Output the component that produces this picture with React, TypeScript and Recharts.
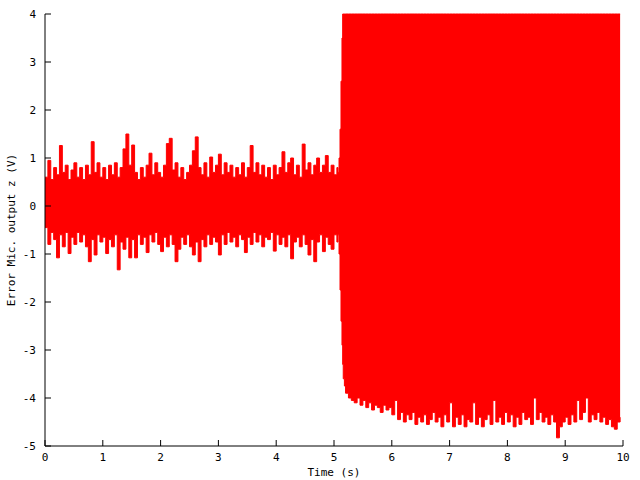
import { ComposedChart, Area, XAxis, YAxis } from 'recharts';

// sampling grid of the noisy record (seconds)
const step = 0.05;

// envelope of the signal before the error grows (t = 0 .. 5.05 s)
const preUpper = [
  0.6, 0.95, 0.55, 0.8, 0.65, 1.26, 0.7, 0.85, 0.55, 0.75,
  0.9, 0.6, 0.8, 0.55, 0.85, 0.65, 1.34, 0.7, 0.9, 0.6,
  0.8, 0.55, 0.85, 0.65, 0.9, 0.6, 0.8, 1.19, 1.5, 0.85,
  1.27, 0.7, 0.55, 0.8, 0.6, 0.85, 1.1, 0.65, 0.9, 0.7,
  0.6, 0.85, 1.3, 1.41, 0.75, 0.9, 0.6, 0.8, 0.55, 0.7,
  0.85, 1.15, 1.44, 0.8, 0.65, 0.9, 0.6, 1.02, 0.7, 0.85,
  1.08, 0.65, 0.9, 0.7, 0.85, 0.6, 0.8, 0.65, 0.9, 0.6,
  0.8, 1.26, 0.7, 0.9, 0.65, 0.85, 0.6, 0.8, 0.55, 0.85,
  0.65, 0.8, 1.13, 0.7, 0.9, 1.0, 0.65, 0.85, 0.6, 1.29,
  0.75, 0.9, 0.65, 0.85, 1.0, 0.7, 0.85, 1.05, 0.7, 0.85,
  0.65, 0.8,
];
const preLower = [
  -0.45, -0.8, -0.55, -0.7, -1.08, -0.6, -0.85, -0.55, -0.99, -0.65,
  -0.8, -0.55, -0.75, -0.6, -0.85, -1.16, -0.7, -1.02, -0.6, -0.75,
  -0.65, -0.99, -0.7, -0.85, -0.6, -1.33, -0.75, -0.9, -0.65, -1.08,
  -0.7, -1.08, -0.6, -0.8, -0.65, -0.97, -0.6, -0.75, -0.55, -0.8,
  -0.95, -0.65, -0.85, -0.6, -0.8, -1.16, -0.9, -0.65, -0.8, -0.6,
  -0.85, -1.02, -0.75, -1.16, -0.7, -0.85, -0.6, -0.8, -0.65, -0.75,
  -1.02, -0.6, -0.8, -0.55, -0.75, -0.65, -0.85, -0.6, -0.7, -0.97,
  -0.65, -0.8, -0.55, -0.75, -0.6, -0.85, -0.65, -0.7, -0.55, -0.94,
  -0.6, -0.8, -0.65, -0.85, -0.6, -1.1, -0.75, -0.65, -0.85, -0.6,
  -0.8, -1.02, -0.7, -1.16, -0.75, -0.6, -0.95, -0.65, -0.8, -0.9,
  -0.6, -0.75,
];

// the fast rise around 5.1 s
const rampTime = [5.07, 5.087, 5.104, 5.121, 5.138, 5.15, 5.16, 5.18];
const rampUpper = [0.7, 1.0, 1.6, 2.6, 3.5, 4, 4, 4];
const rampLower = [-0.6, -1.0, -1.75, -2.4, -2.9, -3.3, -3.6, -3.75];

// after the rise: clipped at the top of the plot, lower envelope (t = 5.20 .. 9.95 s)
const postStart = 5.2;
const postUpper = 4;
const postLower = [
  -3.9, -4.0, -4.05, -4.1, -4.0, -4.15, -4.05, -4.2, -4.1, -4.25,
  -4.15, -4.2, -4.3, -4.15, -4.25, -4.2, -4.35, -4.05, -4.45, -4.3,
  -4.5, -4.35, -4.45, -4.3, -4.55, -4.4, -4.5, -4.35, -4.55, -4.45,
  -4.3, -4.5, -4.4, -4.6, -4.35, -4.5, -4.1, -4.6, -4.4, -4.55,
  -4.35, -4.6, -4.45, -4.5, -4.1, -4.55, -4.4, -4.6, -4.45, -4.35,
  -4.55, -4.05, -4.5, -4.4, -4.55, -4.3, -4.5, -4.35, -4.6, -4.4,
  -4.55, -4.3, -4.45, -4.4, -4.55, -4.0, -4.45, -4.3, -4.5, -4.4,
  -4.55, -4.35, -4.5, -4.83, -4.6, -4.5, -4.4, -4.55, -4.35, -4.5,
  -4.05, -4.45, -4.3, -4.0, -4.5, -4.35, -4.45, -4.3, -4.5, -4.4,
  -4.55, -4.45, -4.6, -4.65, -4.5, -4.4,
];

const xTicks = [0, 1, 2, 3, 4, 5, 6, 7, 8, 9, 10];
const yTicks = [-5, -4, -3, -2, -1, 0, 1, 2, 3, 4];

const data = [
  ...preUpper.map((hi, i) => ({ t: +(i * step).toFixed(3), range: [preLower[i], hi] })),
  ...rampTime.map((t, i) => ({ t, range: [rampLower[i], rampUpper[i]] })),
  ...postLower.map((lo, i) => ({ t: +(postStart + i * step).toFixed(3), range: [lo, postUpper] })),
];

const W = 640;
const H = 480;
const LEFT = 45;
const RIGHT = 623;
const TOP = 14;
const BOTTOM = 446;
const TICK = 6;
const font = { fontFamily: '"DejaVu Sans Mono", monospace', fontSize: 11, fill: '#000' };

const BottomTick = ({ x, payload }: any) => (
  <g>
    <line x1={x} x2={x} y1={BOTTOM} y2={BOTTOM - TICK} stroke="#000" />
    <text x={x} y={BOTTOM + 11} textAnchor="middle" dominantBaseline="central" {...font}>{payload.value}</text>
  </g>
);
const TopTick = ({ x }: any) => <line x1={x} x2={x} y1={TOP} y2={TOP + TICK} stroke="#000" />;
const LeftTick = ({ y, payload }: any) => (
  <g>
    <line x1={LEFT} x2={LEFT + TICK} y1={y} y2={y} stroke="#000" />
    <text x={LEFT - 9} y={y} textAnchor="end" dominantBaseline="central" {...font}>{payload.value}</text>
  </g>
);
const RightTick = ({ y }: any) => <line x1={RIGHT} x2={RIGHT - TICK} y1={y} y2={y} stroke="#000" />;

export default function App() {
  return (
    <div style={{ position: 'absolute', left: 0, top: 0, width: W, height: H, background: '#fff' }}>
      <ComposedChart width={W} height={H} data={data} margin={{ top: TOP, right: W - RIGHT, left: 0, bottom: 0 }}>
        <XAxis
          dataKey="t"
          type="number"
          domain={[0, 10]}
          ticks={xTicks}
          height={H - BOTTOM}
          stroke="#000"
          tickLine={false}
          tick={BottomTick}
          label={() => <text x={(LEFT + RIGHT) / 2} y={472} textAnchor="middle" dominantBaseline="central" {...font}>Time (s)</text>}
        />
        <XAxis xAxisId="top" orientation="top" dataKey="t" type="number" domain={[0, 10]} ticks={xTicks} height={0} stroke="#000" tickLine={false} tick={TopTick} />
        <YAxis
          type="number"
          domain={[-5, 4]}
          ticks={yTicks}
          width={LEFT}
          stroke="#000"
          tickLine={false}
          tick={LeftTick}
          label={() => (
            <text x={11} y={(TOP + BOTTOM) / 2} transform={`rotate(-90 11 ${(TOP + BOTTOM) / 2})`} textAnchor="middle" dominantBaseline="central" {...font}>
              Error Mic. output z (V)
            </text>
          )}
        />
        <YAxis yAxisId="right" orientation="right" type="number" domain={[-5, 4]} ticks={yTicks} width={0} stroke="#000" tickLine={false} tick={RightTick} />
        <Area
          dataKey="range"
          type="stepAfter"
          stroke="#ff0000"
          strokeWidth={1}
          fill="#ff0000"
          fillOpacity={1}
          dot={false}
          activeDot={false}
          isAnimationActive={false}
        />
      </ComposedChart>
    </div>
  );
}
